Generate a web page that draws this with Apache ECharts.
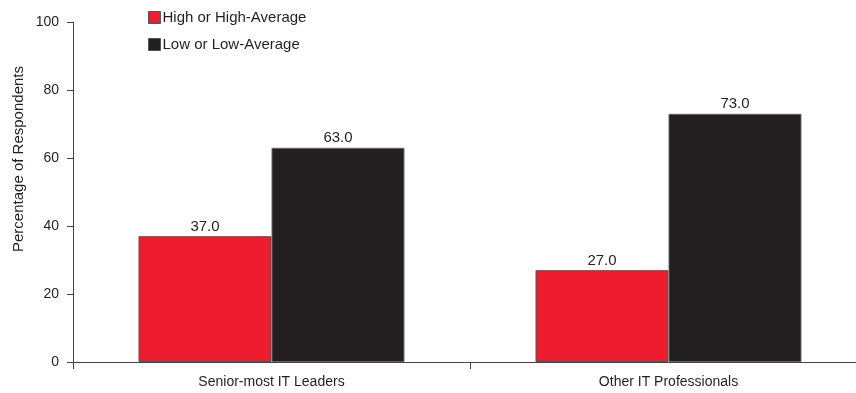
<!DOCTYPE html>
<html>
<head>
<meta charset="utf-8">
<script src="https://cdn.jsdelivr.net/npm/echarts@6/dist/echarts.min.js"></script>
<style>
  html, body { margin: 0; padding: 0; background: #fff; }
  #chart { width: 856px; height: 393px; }
</style>
</head>
<body>
<div id="chart"></div>
<script>
// Respondent groups on the x axis
const categories = ['Senior-most IT Leaders', 'Other IT Professionals'];
// Share of respondents per rating (%)
const highOrHighAverage = [37.0, 27.0];
const lowOrLowAverage = [63.0, 73.0];
const seriesNames = ['High or High-Average', 'Low or Low-Average'];
const yTicks = [0, 20, 40, 60, 80, 100];

const FONT = '"Liberation Sans Narrow", "Arial Narrow", "Liberation Sans", sans-serif';
const INK = '#231F20';

const chart = echarts.init(document.getElementById('chart'));

const labelStyle = {
  show: true,
  position: 'top',
  distance: 2,
  color: INK,
  fontFamily: FONT,
  fontSize: 15,
  formatter: p => p.value.toFixed(1)
};

chart.setOption({
  animation: false,
  backgroundColor: '#fff',
  // plot area runs a little past the right edge of the canvas
  grid: {
    left: 73, width: 794, top: 22, bottom: 31,
    containLabel: false,
    outerBoundsMode: 'none'
  },
  legend: {
    orient: 'vertical',
    left: 143,
    top: 5,
    itemWidth: 12,
    itemHeight: 12,
    itemGap: 12,
    icon: 'rect',
    selectedMode: false,
    textStyle: { color: INK, fontFamily: FONT, fontSize: 15, padding: [0, 0, 0, -3] },
    data: seriesNames.map(n => ({ name: n, itemStyle: { borderColor: '#555', borderWidth: 1 } }))
  },
  xAxis: {
    type: 'category',
    data: categories,
    axisLine: { show: true, lineStyle: { color: '#444', width: 1 } },
    axisTick: { show: true, alignWithLabel: false, length: 7, lineStyle: { color: '#444' } },
    axisLabel: { color: INK, fontFamily: FONT, fontSize: 14, margin: 13 }
  },
  yAxis: {
    type: 'value',
    min: yTicks[0],
    max: yTicks[yTicks.length - 1],
    interval: 20,
    splitLine: { show: false },
    axisLine: { show: true, lineStyle: { color: '#444', width: 1 } },
    axisTick: { show: true, length: 6, lineStyle: { color: '#444' } },
    axisLabel: { color: INK, fontFamily: FONT, fontSize: 14, margin: 14 }
  },
  graphic: [{
    type: 'text',
    x: 19,
    y: 159,
    rotation: Math.PI / 2,
    style: {
      text: 'Percentage of Respondents',
      fill: INK,
      font: '15px ' + FONT,
      textAlign: 'center',
      textVerticalAlign: 'middle'
    }
  }],
  series: [
    {
      name: seriesNames[0],
      type: 'bar',
      data: highOrHighAverage,
      barGap: '0%',
      barCategoryGap: '33%',
      itemStyle: { color: '#ED1C2E', borderColor: '#555', borderWidth: 1 },
      label: labelStyle
    },
    {
      name: seriesNames[1],
      type: 'bar',
      data: lowOrLowAverage,
      itemStyle: { color: INK, borderColor: '#666', borderWidth: 1 },
      label: labelStyle
    }
  ]
});
</script>
</body>
</html>
